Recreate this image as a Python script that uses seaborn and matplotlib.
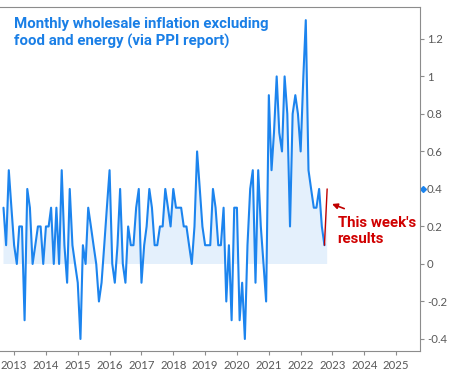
import matplotlib
matplotlib.use('Agg')
import matplotlib.pyplot as plt
import seaborn as sns
import pandas as pd

# monthly change in core PPI (final demand less food & energy), Sep 2012 - Nov 2022
months = pd.date_range('2012-09-01', periods=123, freq='MS')
core_ppi = [
    0.3, 0.1, 0.5, 0.3, 0.1, 0.0, 0.2, 0.2, -0.3, 0.4, 0.3, 0.0,
    0.1, 0.2, 0.2, 0.0, 0.2, 0.2, 0.3, 0.0, 0.3, 0.0, 0.5, 0.1,
    -0.1, 0.4, 0.1, 0.0, -0.1, -0.4, 0.1, 0.0, 0.3, 0.2, 0.1, 0.0,
    -0.2, -0.1, 0.1, 0.3, 0.5, 0.0, -0.1, 0.1, 0.4, 0.0, -0.1, 0.2,
    0.1, 0.1, 0.3, 0.4, -0.1, 0.1, 0.2, 0.4, 0.3, 0.1, 0.1, 0.2,
    0.2, 0.4, 0.3, 0.2, 0.4, 0.3, 0.3, 0.3, 0.2, 0.2, 0.1, 0.0,
    0.2, 0.6, 0.4, 0.2, 0.1, 0.1, 0.1, 0.4, 0.3, 0.1, 0.1, 0.3,
    -0.2, 0.1, -0.3, 0.3, 0.3, -0.3, -0.1, -0.4, 0.1, 0.4, 0.5, -0.1,
    0.5, 0.2, 0.0, -0.2, 0.9, 0.5, 0.7, 1.0, 0.7, 0.6, 1.0, 0.8,
    0.2, 0.8, 0.9, 0.8, 0.6, 1.0, 1.3, 0.5, 0.4, 0.3, 0.3, 0.4,
    0.2, 0.1, 0.4,
]
years = list(range(2013, 2026))
y_ticks = [-0.4, -0.2, 0, 0.2, 0.4, 0.6, 0.8, 1, 1.2]
y_labels = ['-0.4', '-0.2', '0', '0.2', '0.4', '0.6', '0.8', '1', '1.2']

df = pd.DataFrame({'month': months, 'ppi': core_ppi})

blue = '#1c84ee'
red = '#c00000'
grey = '#595959'

sns.set_style('white')
plt.rcParams['font.family'] = ['Lato', 'DejaVu Sans']

fig = plt.figure(figsize=(4.5, 3.75), dpi=100)
ax = fig.add_axes([0.0, 0.064, 0.9333, 0.9173])

ax.fill_between(df['month'], 0, df['ppi'], where=df['ppi'] > 0, interpolate=True,
                color='#e4f0fc', lw=0)
sns.lineplot(data=df.iloc[:-1], x='month', y='ppi', color=blue, lw=1.5, ax=ax)
sns.lineplot(data=df.iloc[-2:], x='month', y='ppi', color=red, lw=1.0, ax=ax)

ax.set_xlim(pd.Timestamp('2012-07-23'), pd.Timestamp('2025-10-01'))
ax.set_ylim(-0.464, 1.37)
ax.set_xlabel('')
ax.set_ylabel('')

ax.set_xticks([pd.Timestamp(f'{y}-01-01') for y in years])
ax.set_xticklabels([str(y) for y in years])
ax.set_yticks(y_ticks)
ax.set_yticklabels(y_labels)
ax.yaxis.tick_right()
ax.tick_params(axis='both', colors='#8c8c8c', labelcolor=grey, labelsize=8.2,
               length=3, width=0.8, direction='out', bottom=True, right=True, left=False)
ax.tick_params(axis='y', pad=2)

for side in ['top', 'right', 'bottom']:
    ax.spines[side].set_color('#8c8c8c')
    ax.spines[side].set_linewidth(0.8)
ax.spines['left'].set_visible(False)

# last-value marker on the axis
ax.plot(1.008, core_ppi[-1], marker='D', ms=3, color=blue,
        transform=ax.get_yaxis_transform(), clip_on=False)

fig.text(14 / 450, 1 - 17 / 375,
         'Monthly wholesale inflation excluding\nfood and energy (via PPI report)',
         family=['Roboto', 'DejaVu Sans'], color='#1a7fe6', fontsize=10.8,
         fontweight='bold', va='top', ha='left', linespacing=1.25)

ax.annotate('', xy=(pd.Timestamp('2022-11-27'), 0.325),
            xytext=(pd.Timestamp('2023-06-15'), 0.29),
            arrowprops=dict(arrowstyle='-|>', color=red, lw=1.2, mutation_scale=8))
ax.text(pd.Timestamp('2023-03-01'), 0.255, "This week's\nresults", color='#d00000',
        family=['Roboto', 'DejaVu Sans'], fontsize=10.8, fontweight='bold',
        va='top', ha='left', linespacing=1.2)

fig.savefig('out.png', dpi=100)
